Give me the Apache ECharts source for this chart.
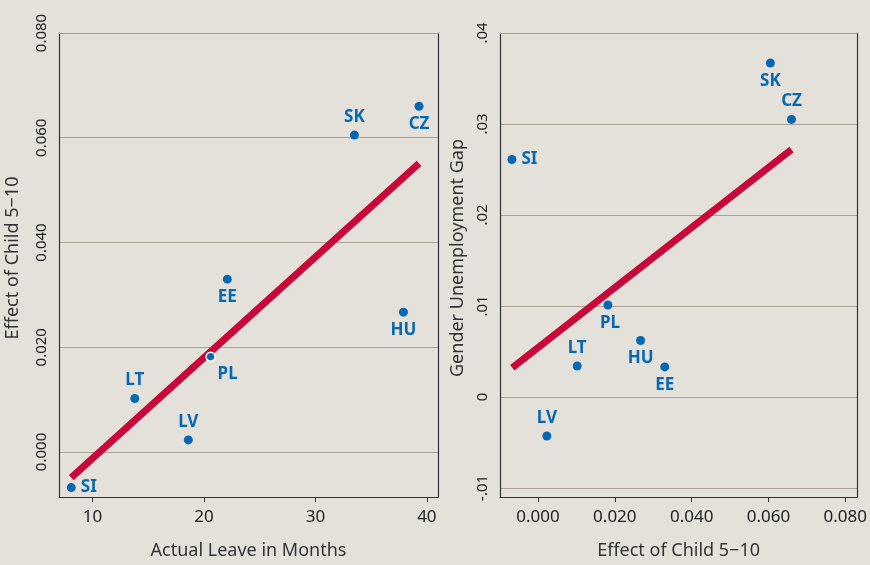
<!DOCTYPE html>
<html><head><meta charset="utf-8">
<script src="https://cdn.jsdelivr.net/npm/echarts@6/dist/echarts.min.js"></script>
<style>html,body{margin:0;padding:0;background:#e4e1da;}#c{width:870px;height:565px;}</style>
</head><body><div id="c"></div>
<script>
// ---- data ----
var countries = ['SI','LT','LV','PL','EE','HU','SK','CZ'];
var leaveMonths = [8.1, 13.8, 18.6, 20.6, 22.1, 37.9, 33.5, 39.3];
var effectChild = [-0.0068, 0.0102, 0.0023, 0.0182, 0.0330, 0.0267, 0.0605, 0.0660];
var unempGap = [0.0261, 0.0034, -0.0043, 0.0101, 0.0033, 0.0062, 0.0367, 0.0305];
// fitted lines (endpoints)
var fitLeftX = [8.1, 39.3];
var fitLeftY = [-0.0049, 0.0551];
var fitRightX = [-0.0067, 0.0660];
var fitRightY = [0.0032, 0.0272];
// tick labels
var leftXTicks = [10, 20, 30, 40];
var leftYTicks = [0, 0.02, 0.04, 0.06, 0.08];
var rightXTicks = [0, 0.02, 0.04, 0.06, 0.08];
var rightYTicks = [-0.01, 0, 0.01, 0.02, 0.03, 0.04];
// label placement (layout, not data)
var leftLabelPos = ['right','top','top','bottom','bottom','bottom','top','bottom'];
var rightLabelPos = ['right','top','top','bottom','bottom','bottom','bottom','top'];

var FONT = 'Noto Sans';
var BLUE = '#0767b3';
var RED = '#c9073a';
var GRID = '#aaa197';
var AX = '#333333';

function pairs(xs, ys){ return xs.map(function(x,i){ return [x, ys[i]]; }); }

function scatterData(xs, ys, pos, special){
  return xs.map(function(x,i){
    var item = {value:[x, ys[i]], name: countries[i], label:{position: pos[i]}};
    if (special && special[countries[i]]) {
      var s = special[countries[i]];
      if (s.offset) item.label.offset = s.offset;
      if (s.border) item.itemStyle = {borderColor:'#ffffff', borderWidth:1.5};
    }
    return item;
  });
}

function xAxisDef(gi, min, max, ticks, name, fmt){
  return {
    type:'value', gridIndex:gi, min:min, max:max,
    name:name, nameLocation:'middle', nameGap:45,
    nameTextStyle:{fontFamily:FONT, fontSize:18, color:'#333'},
    axisLine:{show:true, onZero:false, lineStyle:{color:AX, width:1.2}},
    axisTick:{show:true, length:5, customValues:ticks, lineStyle:{color:AX}},
    axisLabel:{customValues:ticks, margin:12, fontFamily:FONT, fontSize:17, color:'#222', formatter:fmt},
    splitLine:{show:false}
  };
}
function yAxisDef(gi, min, max, ticks, name, fmt, gap){
  return {
    type:'value', gridIndex:gi, min:min, max:max,
    name:name, nameLocation:'middle', nameGap:gap,
    nameTextStyle:{fontFamily:FONT, fontSize:18, color:'#333', padding:[0,0,0,14]},
    axisLine:{show:true, onZero:false, lineStyle:{color:AX, width:1.2}},
    axisTick:{show:false, customValues:ticks},
    axisLabel:{customValues:ticks, rotate:90, margin:10, fontFamily:FONT, fontSize:15, color:'#222', formatter:fmt},
    splitLine:{show:true, lineStyle:{color:GRID, width:1.2}}
  };
}
function rightFrame(gi, min, max){
  return {
    type:'value', gridIndex:gi, min:min, max:max, position:'right',
    axisLine:{show:true, onZero:false, lineStyle:{color:AX, width:1.2}},
    axisTick:{show:false}, axisLabel:{show:false}, splitLine:{show:false}
  };
}
function topFrame(gi, min, max){
  return {
    type:'value', gridIndex:gi, min:min, max:max, position:'top',
    axisLine:{show:true, onZero:false, lineStyle:{color:GRID, width:1.2}},
    axisTick:{show:false}, axisLabel:{show:false}, splitLine:{show:false}
  };
}

var labelStyle = {show:true, formatter:'{b}', fontFamily:FONT, fontWeight:'bold', fontSize:17, color:BLUE, opacity:1, distance:5};

var option = {
  backgroundColor:'#e4e1da',
  animation:false,
  grid:[
    {left:59, top:33, width:379, height:468},
    {left:500, top:33, width:363, height:468}
  ],
  xAxis:[
    xAxisDef(0, 7, 41, leftXTicks, 'Actual Leave in Months', function(v){ return String(v); }),
    xAxisDef(1, -0.0099, 0.0831, rightXTicks, 'Effect of Child 5\u221210', function(v){ return v.toFixed(3); }),
    topFrame(0, 7, 41),
    topFrame(1, -0.0099, 0.0831)
  ],
  yAxis:[
    yAxisDef(0, -0.0086, 0.08, leftYTicks, 'Effect of Child 5\u221210', function(v){ return v.toFixed(3); }, 37),
    yAxisDef(1, -0.011, 0.04, rightYTicks, 'Gender Unemployment Gap', function(v){
      if (Math.abs(v) < 1e-9) return '0';
      var s = v.toFixed(2);
      return s.replace('0.', '.');
    }, 33),
    rightFrame(0, -0.0086, 0.08),
    rightFrame(1, -0.011, 0.04)
  ],
  series:[
    {type:'line', xAxisIndex:0, yAxisIndex:0, data:pairs(fitLeftX, fitLeftY), symbol:'none',
     lineStyle:{color:RED, width:7, cap:'butt'}, z:2},
    {type:'line', xAxisIndex:1, yAxisIndex:1, data:pairs(fitRightX, fitRightY), symbol:'none',
     lineStyle:{color:RED, width:7, cap:'butt'}, z:2},
    {type:'scatter', xAxisIndex:0, yAxisIndex:0, symbolSize:9, itemStyle:{color:BLUE, opacity:1}, z:3,
     label:labelStyle,
     data:scatterData(leaveMonths, effectChild, leftLabelPos, {PL:{offset:[17,-1], border:true}})},
    {type:'scatter', xAxisIndex:1, yAxisIndex:1, symbolSize:9, itemStyle:{color:BLUE, opacity:1}, z:3,
     label:labelStyle,
     data:scatterData(effectChild, unempGap, rightLabelPos, {PL:{offset:[2,0]}})}
  ]
};
var chart = echarts.init(document.getElementById('c'), null, {renderer:'canvas'});
chart.setOption(option);
</script></body></html>
